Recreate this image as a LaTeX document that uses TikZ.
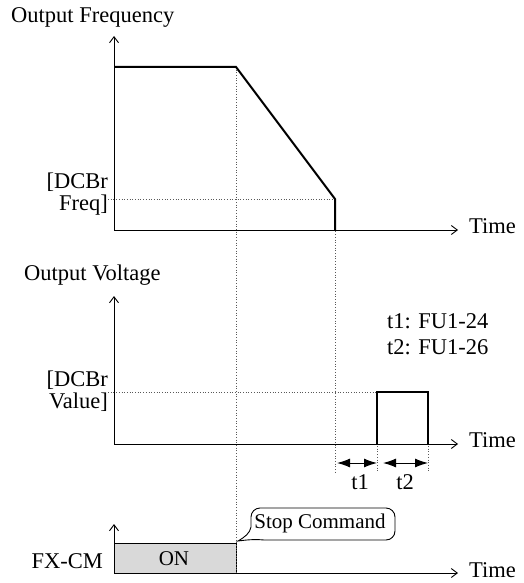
\documentclass[tikz,border=0pt]{standalone}
\usepackage{fontspec}
\setmainfont{Liberation Serif}
\usetikzlibrary{arrows.meta}
\begin{document}
\begin{tikzpicture}[x=1pt,y=-1pt,
  axis/.style={line width=0.9pt,-{Straight Barb[length=6pt,width=9pt,line width=0.9pt]}},
  wave/.style={line width=2pt},
  guide/.style={dotted,line width=0.7pt,black!65},
  dim/.style={line width=1pt,{Latex[length=13pt,width=9pt]}-{Latex[length=13pt,width=9pt]}},
  lbl/.style={font=\fontsize{22.5}{26}\selectfont,inner sep=0pt},
  small/.style={font=\fontsize{21}{24}\selectfont,inner sep=0pt}]
\useasboundingbox (0,0) rectangle (524,583);
% ---------- coordinates ----------
\coordinate (fo) at (114,230);
\coordinate (fy) at (114,36);
\coordinate (fx) at (458,230);
\coordinate (f1) at (114,67);
\coordinate (f2) at (236,67);
\coordinate (f3) at (335,199);
\coordinate (f4) at (335,230);
\coordinate (fdl) at (108,199);
\coordinate (vo) at (114,444);
\coordinate (vy) at (114,296);
\coordinate (vx) at (458,444);
\coordinate (vdl) at (108,392);
\coordinate (p1) at (377,444);
\coordinate (p2) at (377,392);
\coordinate (p3) at (428,392);
\coordinate (p4) at (428,444);
\coordinate (g2) at (236,573);
\coordinate (g3) at (335,472);
\coordinate (g4) at (377,472);
\coordinate (g5) at (428,472);
\coordinate (a1) at (337,463);
\coordinate (a2) at (377,463);
\coordinate (a3) at (383,463);
\coordinate (a4) at (428,463);
\coordinate (co) at (114,573);
\coordinate (cy) at (114,524);
\coordinate (cx) at (458,573);
% ---------- ON box ----------
\draw[line width=0.9pt,fill=black!15] (114,543) rectangle (236,573);
% ---------- guides ----------
\draw[guide] (fdl) -- (f3);
\draw[guide] (f2) -- (g2);
\draw[guide] (f3) -- (g3);
\draw[guide] (vdl) -- (p2);
\draw[guide] (p2) -- (g4);
\draw[guide] (p3) -- (g5);
% ---------- axes ----------
\draw[axis] (fo) -- (fy);
\draw[axis] (fo) -- (fx);
\draw[axis] (vo) -- (vy);
\draw[axis] (vo) -- (vx);
\draw[axis] (co) -- (cy);
\draw[axis] (co) -- (cx);
% ---------- waveforms ----------
\draw[wave,line join=miter] (f1) -- (f2) -- (f3) -- (f4);
\draw[wave,line join=miter] (p1) -- (p2) -- (p3) -- (p4);
% ---------- dimensions ----------
\draw[dim] (a1) -- (a2);
\draw[dim] (a3) -- (a4);
% ---------- callout ----------
\draw[line width=0.9pt] (251,527) [rounded corners=9pt] -- (251,508) -- (395,508) -- (395,540) [sharp corners] -- (264,540)
  .. controls (254,539) and (246,540) .. (238,541)
  .. controls (245,537) and (250,533) .. (251,527) -- cycle;
% ---------- texts ----------
\node[lbl,anchor=base west] (tf) at (11,23) {Output Frequency};
\node[lbl,anchor=base west] (tt1) at (469,233) {Time};
\node[lbl,anchor=base east] (df1) at (108,188) {[DCBr};
\node[lbl,anchor=base east] (df2) at (108,210) {Freq]};
\node[lbl,anchor=base west] (tv) at (24,280) {Output Voltage};
\node[lbl,anchor=base west] (n1) at (387,328) {t1: FU1-24};
\node[lbl,anchor=base west] (n2) at (387,354) {t2: FU1-26};
\node[lbl,anchor=base east] (dv1) at (108,386) {[DCBr};
\node[lbl,anchor=base east] (dv2) at (108,408) {Value]};
\node[lbl,anchor=base west] (tt2) at (469,447) {Time};
\node[lbl,anchor=base] (lt1) at (360,489) {t1};
\node[lbl,anchor=base] (lt2) at (405,489) {t2};
\node[lbl,anchor=base east] (fx) at (103,568) {FX-CM};
\node[small,anchor=base] (on) at (174,565) {ON};
\node[small,anchor=base] (sc) at (320,528) {Stop Command};
\node[lbl,anchor=base west] (tt3) at (469,577) {Time};
\end{tikzpicture}
\end{document}
